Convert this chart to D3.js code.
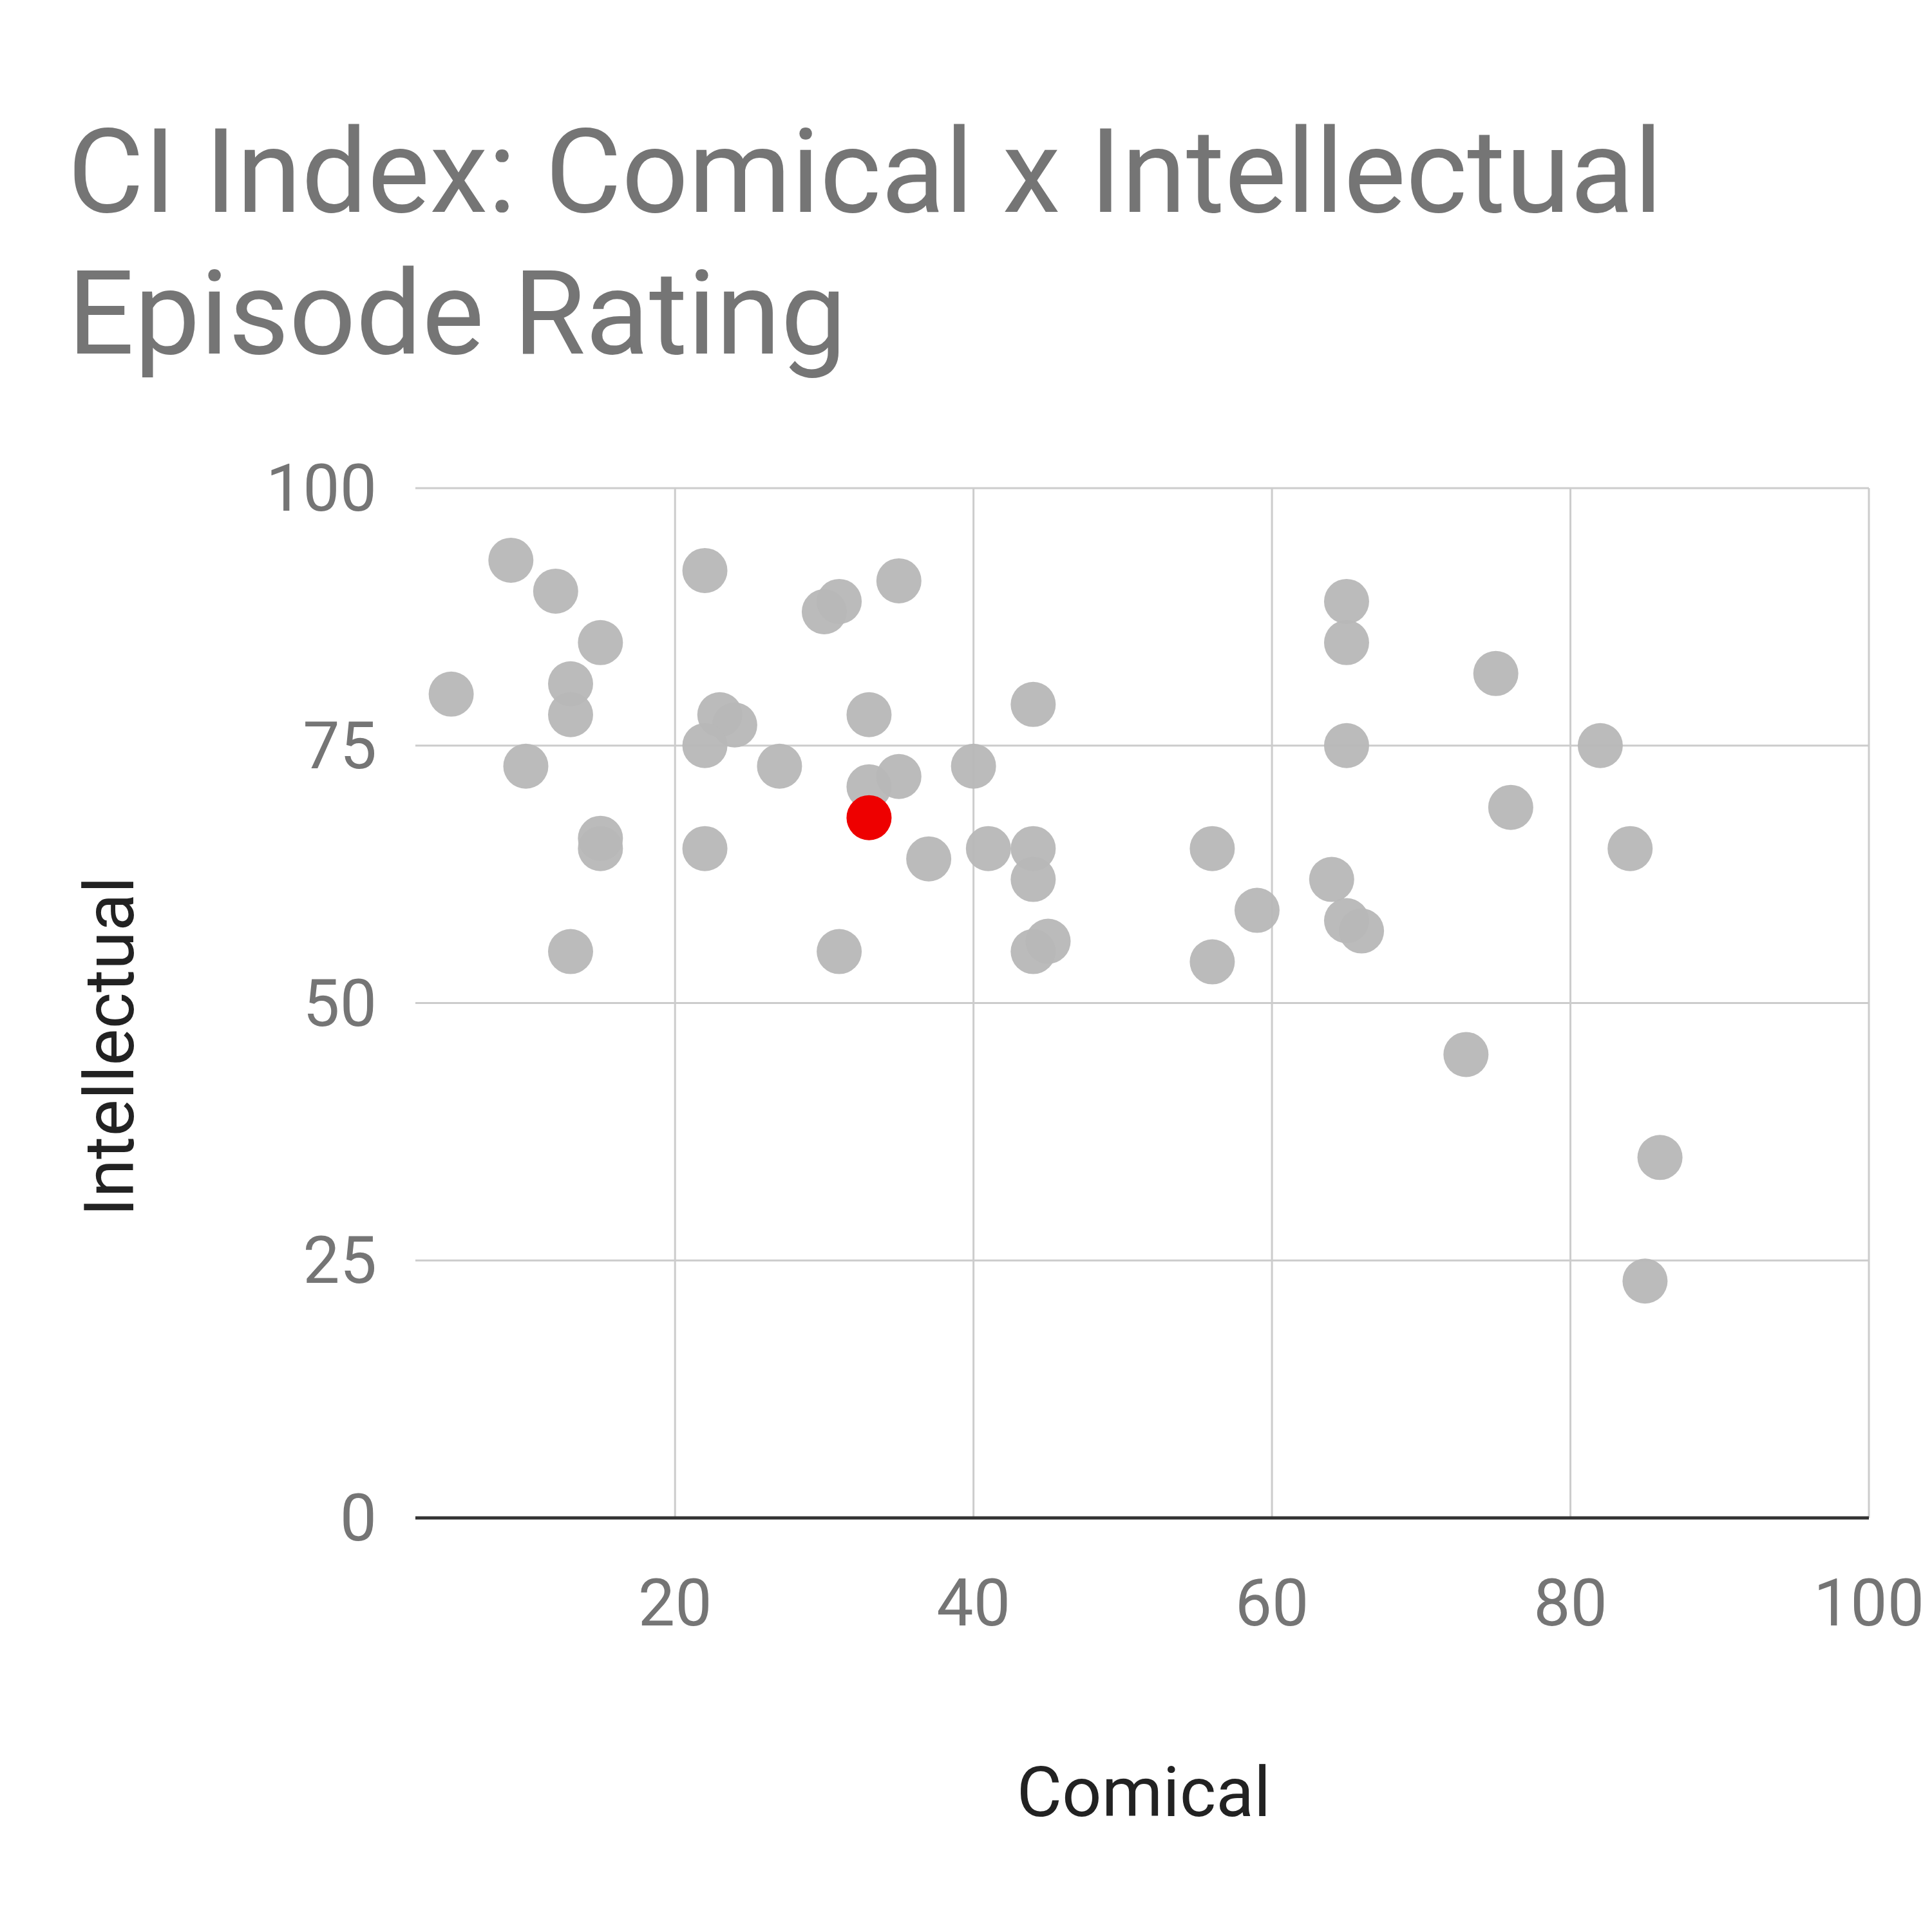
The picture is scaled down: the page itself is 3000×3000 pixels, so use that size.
<!DOCTYPE html>
<html><head><meta charset="utf-8">
<script src="https://cdn.jsdelivr.net/npm/d3@7"></script>
<style>body{margin:0;background:#fff}</style>
</head><body>
<script>
// Episode ratings
const comical      = [5, 9, 12, 15, 13, 13, 10, 15, 15, 13, 22, 23, 24, 22, 27, 22, 30, 31, 35, 33, 33, 35, 37, 31, 40, 41, 44, 44, 44, 44, 45, 56, 56, 59, 64, 65, 66, 65, 65, 65, 73, 75, 76, 82, 84, 86, 85];
const intellectual = [80, 93, 90, 85, 81, 78, 73, 65, 66, 55, 92, 78, 77, 75, 73, 65, 88, 89, 91, 78, 71, 72, 64, 55, 73, 65, 79, 65, 62, 55, 56, 65, 54, 59, 62, 58, 57, 89, 85, 75, 45, 82, 69, 75, 65, 35, 23];
const highlight = { comical: 33, intellectual: 68 };
const xTicks = [20, 40, 60, 80, 100];
const yTicks = [0, 25, 50, 75, 100];

const W = 3000, H = 3000;
const svg = d3.select('body').append('svg').attr('width', W).attr('height', H)
  .style('font-family', 'Roboto, sans-serif');

const x = d3.scaleLinear().domain([2.6, 100]).range([645, 2902]);
const y = d3.scaleLinear().domain([0, 100]).range([2357, 758]);

// Title
svg.append('text').attr('x', 105).attr('y', 329).attr('font-size', 182).attr('fill', '#757575')
  .text('CI Index: Comical x Intellectual');
svg.append('text').attr('x', 105).attr('y', 549).attr('font-size', 182).attr('fill', '#757575')
  .text('Episode Rating');

// Grid
svg.append('g').selectAll('line').data(yTicks.filter(d => d > 0)).join('line')
  .attr('x1', 645).attr('x2', 2902).attr('y1', d => y(d)).attr('y2', d => y(d))
  .attr('stroke', '#cccccc').attr('stroke-width', 3);
svg.append('g').selectAll('line').data(xTicks).join('line')
  .attr('x1', d => x(d)).attr('x2', d => x(d)).attr('y1', 758).attr('y2', 2357)
  .attr('stroke', '#cccccc').attr('stroke-width', 3);
svg.append('line').attr('x1', 645).attr('x2', 2902).attr('y1', y(0)).attr('y2', y(0))
  .attr('stroke', '#333').attr('stroke-width', 5);

// Tick labels
svg.append('g').selectAll('text').data(yTicks).join('text')
  .attr('x', 585).attr('y', d => y(d) + 35).attr('text-anchor', 'end')
  .attr('font-size', 102).attr('fill', '#757575').text(d => d);
svg.append('g').selectAll('text').data(xTicks).join('text')
  .attr('x', d => x(d)).attr('y', 2524).attr('text-anchor', 'middle')
  .attr('font-size', 102).attr('fill', '#757575').text(d => d);

// Axis titles
svg.append('text').attr('x', 1776).attr('y', 2820).attr('text-anchor', 'middle')
  .attr('font-size', 108).attr('fill', '#222').text('Comical');
svg.append('text').attr('transform', 'translate(207,1625) rotate(-90)').attr('text-anchor', 'middle')
  .attr('font-size', 108).attr('fill', '#222').text('Intellectual');

// Points
const pts = comical.map((c, i) => ({ c, v: intellectual[i] }));
svg.append('g').selectAll('circle').data(pts).join('circle')
  .attr('cx', d => x(d.c)).attr('cy', d => y(d.v)).attr('r', 35)
  .attr('fill', '#b7b7b7').attr('fill-opacity', 0.95);
svg.append('circle').attr('cx', x(highlight.comical)).attr('cy', y(highlight.intellectual))
  .attr('r', 35).attr('fill', '#ee0000');
</script>
</body></html>
